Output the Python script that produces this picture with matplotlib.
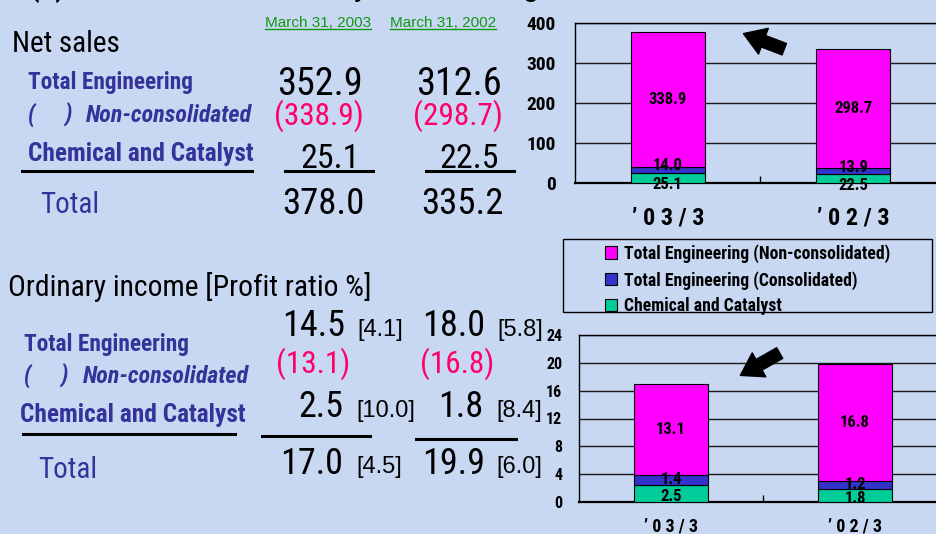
import matplotlib
matplotlib.use("Agg")
import numpy as np
import matplotlib.pyplot as plt
from matplotlib.patches import Rectangle, FancyArrowPatch
from matplotlib.lines import Line2D

# ---------------- data ----------------
periods = ["’ 0 3 / 3", "’ 0 2 / 3"]
column_dates = ["March 31, 2003", "March 31, 2002"]
series_names = ["Total Engineering (Non-consolidated)",
                "Total Engineering (Consolidated)",
                "Chemical and Catalyst"]

sales_noncons = [338.9, 298.7]
sales_cons_extra = [14.0, 13.9]
sales_chem = [25.1, 22.5]
sales_total_eng = [352.9, 312.6]
sales_total = [378.0, 335.2]

inc_noncons = [13.1, 16.8]
inc_cons_extra = [1.4, 1.2]
inc_chem = [2.5, 1.8]
inc_total_eng = [14.5, 18.0]
inc_total = [17.0, 19.9]
ratio_total_eng = [4.1, 5.8]
ratio_chem = [10.0, 8.4]
ratio_total = [4.5, 6.0]

sales_ticks = [0, 100, 200, 300, 400]
income_ticks = [0, 4, 8, 12, 16, 20, 24]

# ---------------- style ----------------
W, H = 937, 534
BG = "#c8d7f2"
BLUE = "#333399"
PINK = "#ff0066"
GREEN_TXT = "#119911"
C_NONCONS = "#ff00ff"
C_CONS = "#3333cc"
C_CHEM = "#00cc99"
NARROW = ["Roboto Condensed", "DejaVu Sans"]
REG = ["Liberation Sans", "DejaVu Sans"]

fig = plt.figure(figsize=(W / 100, H / 100), dpi=100, facecolor=BG)


def fx(x):
    return x / W


def fy(y):
    return 1 - y / H


def ftext(x, y, s, size, color="black", ha="left", weight="normal",
          style="normal", family=NARROW):
    return fig.text(fx(x), fy(y), s, fontsize=size, color=color, ha=ha,
                    va="baseline", fontweight=weight, fontstyle=style,
                    family=family)


def hline(x0, x1, y, lw=2.2, color="black"):
    fig.add_artist(Line2D([fx(x0), fx(x1)], [fy(y), fy(y)],
                          transform=fig.transFigure, color=color, lw=lw))


def noncons_label(x_open, x_close, x_word, y):
    kw = dict(color=BLUE, weight="bold", style="italic")
    ftext(x_open, y, "(", 17, **kw)
    ftext(x_close, y, ")", 17, **kw)
    ftext(x_word, y, "Non-consolidated", 17.3, **kw)


# cut-off title at the very top
ftext(30, -4, "(2) Consolidated Results by Business Segment", 22,
      weight="bold")

# ---------------- Net sales table ----------------
date_texts = []
date_texts.append(ftext(265, 27, column_dates[0], 11, color=GREEN_TXT,
                        family=REG))
date_texts.append(ftext(390, 27, column_dates[1], 11, color=GREEN_TXT,
                        family=REG))

ftext(12, 52, "Net sales", 21)
ftext(28, 88.5, "Total Engineering", 16.8, color=BLUE, weight="bold")
noncons_label(28, 64, 86, 122)
ftext(28, 160.5, "Chemical and Catalyst", 18.3, color=BLUE, weight="bold")
hline(22, 252, 171)
ftext(40, 213.5, "Total", 21, color=BLUE)

col_right = [363, 502]
for i in range(2):
    ftext(col_right[i], 94.6, f"{sales_total_eng[i]:.1f}", 27.5, ha="right")
    ftext(col_right[i] + 1, 125, f"({sales_noncons[i]:.1f})", 22.5,
          color=PINK, ha="right")
    ftext(col_right[i] - 3, 168, f"{sales_chem[i]:.1f}", 24.5, ha="right")
    ftext(col_right[i] + 2, 214.5, f"{sales_total[i]:.1f}", 26.5, ha="right")
hline(285, 373, 171)
hline(426, 514, 171)

# ---------------- Ordinary income table ----------------
ftext(8, 295.5, "Ordinary income [Profit ratio %]", 21.3)
ftext(24, 350.5, "Total Engineering", 16.8, color=BLUE, weight="bold")
noncons_label(24, 60, 83, 383)
ftext(20, 422, "Chemical and Catalyst", 18.3, color=BLUE, weight="bold")
hline(23, 235, 434)
ftext(38, 478, "Total", 21, color=BLUE)

num_right = [345, 485]
br_left = [357, 497]
nc_right = [350, 494]
for i in range(2):
    ftext(num_right[i], 336, f"{inc_total_eng[i]:.1f}", 26, ha="right")
    ftext(br_left[i], 336, f"[{ratio_total_eng[i]:.1f}]", 17, family=REG)
    ftext(nc_right[i], 373, f"({inc_noncons[i]:.1f})", 22.5, color=PINK,
          ha="right")
    ftext(num_right[i] - 2, 417, f"{inc_chem[i]:.1f}", 26, ha="right")
    ftext(br_left[i] - 1, 417, f"[{ratio_chem[i]:.1f}]", 17, family=REG)
    ftext(num_right[i] - 2 if i == 0 else num_right[i], 473.5,
          f"{inc_total[i]:.1f}", 26, ha="right")
    ftext(br_left[i] - 1, 473.5, f"[{ratio_total[i]:.1f}]", 17, family=REG)
hline(262, 370, 436)
hline(416, 516, 439)


# ---------------- charts ----------------
def stacked_chart(rect, noncons, extra, chem, ticks, tick_fs, lab_fs, xfs,
                  ypad, xpad, offs):
    ax = fig.add_axes(rect)
    ax.set_facecolor("none")
    x = np.arange(len(periods))
    chem = np.array(chem)
    extra = np.array(extra)
    noncons = np.array(noncons)
    kw = dict(width=0.4, edgecolor="black", linewidth=0.8, zorder=3)
    ax.bar(x, chem, color=C_CHEM, **kw)
    ax.bar(x, extra, bottom=chem, color=C_CONS, **kw)
    ax.bar(x, noncons, bottom=chem + extra, color=C_NONCONS, **kw)
    ax.set_xlim(-0.5, 1.5)
    ax.set_ylim(ticks[0], ticks[-1])
    ax.set_yticks(ticks)
    ax.set_yticklabels([str(t) for t in ticks], fontsize=tick_fs,
                       fontweight="bold", family=NARROW)
    ax.yaxis.grid(True, color="#1a1a1a", lw=1.0, zorder=1)
    ax.set_axisbelow(True)
    ax.tick_params(axis="y", length=0, pad=ypad)
    ax.set_xticks(x)
    ax.set_xticklabels(periods, fontsize=xfs, fontweight="bold", family=NARROW)
    ax.tick_params(axis="x", length=0, pad=xpad)
    ax.set_xticks([0.5], minor=True)
    ax.tick_params(axis="x", which="minor", direction="in", length=5,
                   width=1, color="black")
    ax.spines["right"].set_visible(False)
    for s in ("top", "left"):
        ax.spines[s].set_color("black")
        ax.spines[s].set_linewidth(1.0)
    ax.spines["bottom"].set_linewidth(1.6)
    for i in x:
        segs = [(chem[i] / 2, chem[i], offs[0]),
                (chem[i] + extra[i] / 2, extra[i], offs[1]),
                (chem[i] + extra[i] + noncons[i] / 2, noncons[i], 0)]
        for yc, v, off in segs:
            ax.annotate(f"{v:.1f}", (i, yc), xytext=(0, off),
                        textcoords="offset points", ha="center", va="center",
                        fontsize=lab_fs, fontweight="bold", family=NARROW,
                        zorder=5)
    return ax


ax1 = stacked_chart([fx(575), fy(183), (946 - 575) / W, (183 - 23) / H],
                    sales_noncons, sales_cons_extra, sales_chem, sales_ticks,
                    14, 12, 17.5, 14, 17, (-5, 3))
ax2 = stacked_chart([fx(579), fy(502), (947 - 579) / W, (502 - 335) / H],
                    inc_noncons, inc_cons_extra, inc_chem, income_ticks,
                    11.5, 12, 13, 12, 11, (-2, 0.5))

# arrows
arrow_style = "simple,head_width=1.8,head_length=1.4,tail_width=0.8"
for ax, tail, head in [(ax1, (0.571, 0.83), (0.447, 0.94)),
                       (ax2, (0.552, 0.90), (0.432, 0.75))]:
    ax.add_patch(FancyArrowPatch(tail, head, transform=ax.transAxes,
                                 arrowstyle=arrow_style, mutation_scale=11,
                                 color="black", zorder=6, clip_on=False))

# legend with its own frame
fig.add_artist(Rectangle((fx(563), fy(312)), (932 - 563) / W, (312 - 239) / H,
                         transform=fig.transFigure, facecolor="none",
                         edgecolor="black", lw=1.0))
handles = [Rectangle((0, 0), 1, 1, facecolor=c, edgecolor="black", lw=0.8)
           for c in (C_NONCONS, C_CONS, C_CHEM)]
fig.legend(handles, series_names, loc="upper left",
           bbox_to_anchor=(fx(605), fy(244)), frameon=False,
           prop={"family": NARROW, "weight": "bold", "size": 12.7},
           handlelength=0.7, handleheight=0.7, handletextpad=0.35,
           labelspacing=0.45, borderpad=0, borderaxespad=0)

# underline the column dates
fig.canvas.draw()
r = fig.canvas.get_renderer()
for t in date_texts:
    bb = t.get_window_extent(r)
    fig.add_artist(Line2D([bb.x0 / W, bb.x1 / W], [fy(28.8), fy(28.8)],
                          transform=fig.transFigure, color=GREEN_TXT, lw=1.0))

fig.savefig("out.png", dpi=100, facecolor=BG)
